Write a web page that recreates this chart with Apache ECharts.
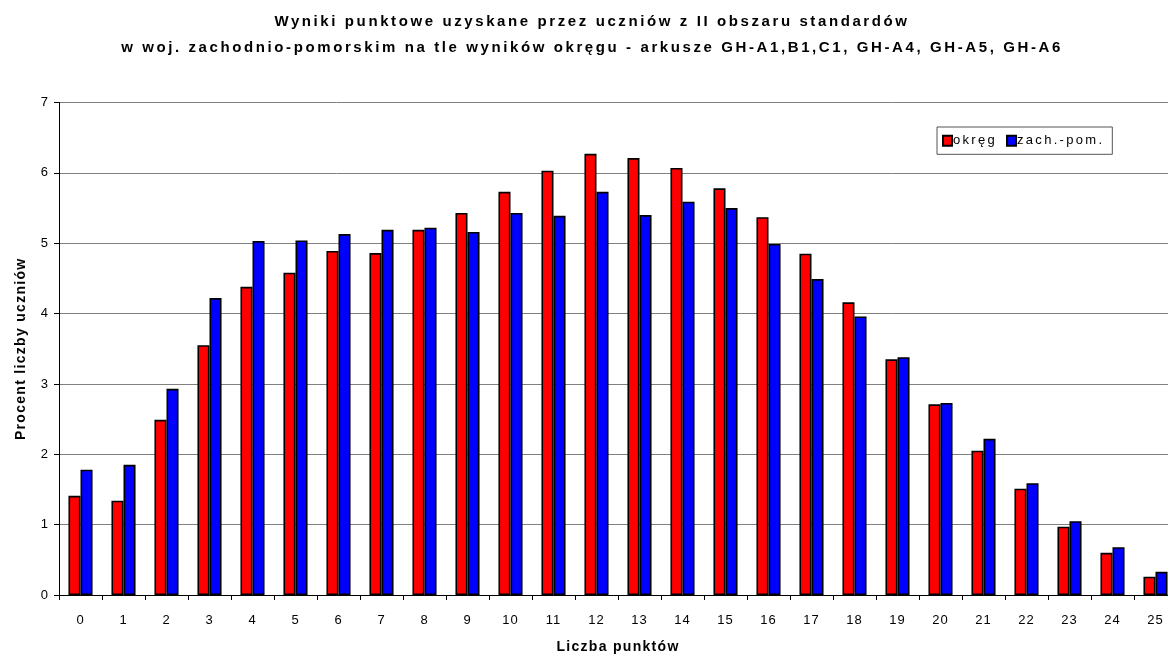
<!DOCTYPE html>
<html>
<head>
<meta charset="utf-8">
<script src="https://cdn.jsdelivr.net/npm/echarts@6/dist/echarts.min.js"></script>
<style>
  html, body { margin: 0; padding: 0; background: #fff; overflow: hidden; }
  #chart { width: 1168px; height: 655px; }
</style>
</head>
<body>
<div id="chart"></div>
<script>
// Points scored (0–25)
const points = ['0','1','2','3','4','5','6','7','8','9','10','11','12','13','14','15','16','17','18','19','20','21','22','23','24','25'];
// Percentage of students – whole district
const okreg = [1.41,1.34,2.49,3.55,4.38,4.58,4.89,4.86,5.19,5.43,5.73,6.03,6.27,6.21,6.07,5.78,5.37,4.85,4.16,3.35,2.71,2.05,1.51,0.97,0.60,0.26];
// Percentage of students – zachodniopomorskie voivodeship
const zachPom = [1.78,1.85,2.93,4.22,5.03,5.04,5.13,5.19,5.22,5.16,5.43,5.39,5.73,5.40,5.59,5.50,4.99,4.49,3.96,3.38,2.73,2.22,1.59,1.05,0.68,0.33];
const yTicks = { min: 0, max: 7, interval: 1 };

// Letter-spaced text: a font family tag "ls-N" sets N px of tracking
// for both drawing and measuring, so centring stays correct.
(function () {
  const proto = CanvasRenderingContext2D.prototype;
  const tag = /ls-([\d.]+)/;
  const wrap = (fn) => function () {
    const m = tag.exec(this.font);
    if (!m || !('letterSpacing' in this)) return fn.apply(this, arguments);
    const prev = this.letterSpacing;
    this.letterSpacing = m[1] + 'px';
    const r = fn.apply(this, arguments);
    this.letterSpacing = prev;
    return r;
  };
  proto.fillText = wrap(proto.fillText);
  proto.measureText = wrap(proto.measureText);
})();

const fam = (s) => `'ls-${s}', 'Liberation Sans', Arial, sans-serif`;

const chart = echarts.init(document.getElementById('chart'));
chart.setOption({
  animation: false,
  backgroundColor: '#ffffff',
  textStyle: { fontFamily: fam(1) },
  title: {
    text: 'Wyniki punktowe uzyskane przez uczniów z II obszaru standardów\nw woj. zachodnio-pomorskim na tle wyników okręgu - arkusze GH-A1,B1,C1, GH-A4, GH-A5, GH-A6',
    left: 587, top: 4, textAlign: 'center',
    textStyle: { fontFamily: fam(2.6), fontSize: 15, fontWeight: 'bold', color: '#000', lineHeight: 26 }
  },
  legend: {
    data: ['okręg', 'zach.-pom.'],
    left: 937, top: 127,
    orient: 'horizontal',
    itemWidth: 9, itemHeight: 10, itemGap: 9,
    icon: 'rect',
    padding: [6, 8, 6, 5],
    borderColor: '#555', borderWidth: 1,
    textStyle: { fontFamily: fam(2.3), fontSize: 13, color: '#000', padding: [0, 0, 0, -4] }
  },
  grid: { left: 59, width: 1118, top: 102.5, bottom: 60, containLabel: false, outerBoundsMode: 'none' },
  xAxis: {
    type: 'category',
    data: points,
    name: 'Liczba punktów',
    nameLocation: 'middle', nameGap: 44,
    nameTextStyle: { fontFamily: fam(1.3), fontSize: 14, fontWeight: 'bold', color: '#000' },
    axisLine: { lineStyle: { color: '#000', width: 1 } },
    axisTick: { show: true, alignWithLabel: false, length: 5, lineStyle: { color: '#000' } },
    axisLabel: { fontFamily: fam(1), fontSize: 13, color: '#000', margin: 18 }
  },
  yAxis: {
    type: 'value',
    min: yTicks.min, max: yTicks.max, interval: yTicks.interval,
    name: 'Procent liczby uczniów',
    nameLocation: 'middle', nameGap: 30, nameRotate: 90,
    nameTextStyle: { fontFamily: fam(1.3), fontSize: 14, fontWeight: 'bold', color: '#000' },
    axisLine: { show: true, lineStyle: { color: '#000', width: 1 } },
    axisTick: { show: true, length: 5, lineStyle: { color: '#000' } },
    axisLabel: { fontFamily: fam(1), fontSize: 13, color: '#000', margin: 10 },
    splitLine: { show: true, lineStyle: { color: '#808080', width: 1 } }
  },
  series: [
    {
      name: 'okręg', type: 'bar', data: okreg,
      barGap: '0%', barCategoryGap: '44%',
      itemStyle: { color: '#ff0000', borderColor: '#000', borderWidth: 1.6 }
    },
    {
      name: 'zach.-pom.', type: 'bar', data: zachPom,
      barGap: '0%', barCategoryGap: '44%',
      itemStyle: { color: '#0000ff', borderColor: '#000', borderWidth: 1.6 }
    }
  ]
});
</script>
</body>
</html>
